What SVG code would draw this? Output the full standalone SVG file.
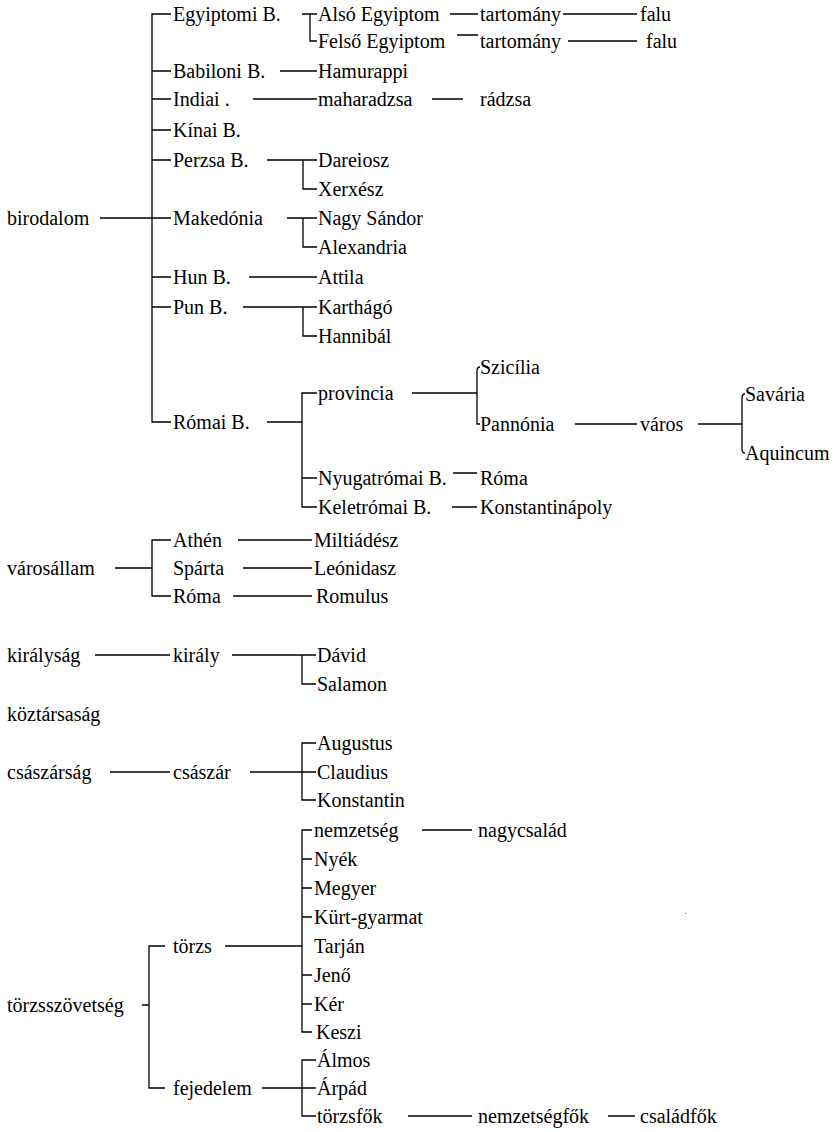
<svg xmlns="http://www.w3.org/2000/svg" width="838" height="1132" viewBox="0 0 838 1132">
<style>
text{font-family:"Liberation Serif","Times New Roman",serif;font-size:20px;fill:#000}
.c{stroke:#000;stroke-width:1.3;fill:none}
</style>
<rect width="838" height="1132" fill="#fff"/>
<g id="connectors" class="c">
<!-- birodalom trunk -->
<path d="M100,218H152M171,14H152V422H171M152,71H171M152,99H171M152,130H171M152,160H171M152,218H171M152,277H171M152,307H171"/>
<!-- Egyiptomi -->
<path d="M302,14H317M310,14V41H317"/>
<path d="M450,14H478M563,14H637M457,35H478M568,41H637"/>
<!-- Babiloni, Indiai -->
<path d="M280,71H317M253,99H317M432,99H463"/>
<!-- Perzsa -->
<path d="M267,160H317M303,160V189H317"/>
<!-- Makedonia -->
<path d="M287,218H317M303,218V247H317"/>
<!-- Hun, Pun -->
<path d="M249,277H317M243,307H317M303,307V336H317"/>
<!-- Romai -->
<path d="M267,422H302M317,393H302V507H317M302,478H317"/>
<path d="M412,393H477M480,367Q477,367 477,371V424H480M575,424H637M698,424H742M745,394Q742,394 742,398V449Q742,453 745,453"/>
<path d="M453,473H477M452,507H477"/>
<!-- varosallam -->
<path d="M115,568H152M171,540H152V596H171M238,540H312M243,568H312M233,596H312"/>
<!-- kiralysag -->
<path d="M95,655H170M232,655H316M302,655V684H316"/>
<!-- csaszarsag -->
<path d="M110,772H170M250,772H316M316,743H302V800H316"/>
<!-- torzsszovetseg -->
<path d="M142,1005H149M165,946H149V1088H165"/>
<path d="M225,946H302M312,830H302V1032H312M302,859H312M302,888H312M302,917H312M302,975H312M302,1004H312"/>
<path d="M422,830H472"/>
<path d="M262,1088H316M316,1060H302V1116H316"/>
<path d="M408,1116H472M608,1116H635"/>
</g>
<g id="n-birodalom"><text x="7" y="225">birodalom</text></g>
<g id="n-egyiptomi"><text x="173" y="21">Egyiptomi B.</text></g>
<g id="n-also"><text x="318" y="21">Alsó Egyiptom</text></g>
<g id="n-tart1"><text x="480" y="21">tartomány</text></g>
<g id="n-falu1"><text x="640" y="21">falu</text></g>
<g id="n-felso"><text x="318" y="48">Felső Egyiptom</text></g>
<g id="n-tart2"><text x="480" y="48">tartomány</text></g>
<g id="n-falu2"><text x="646" y="48">falu</text></g>
<g id="n-babiloni"><text x="173" y="78">Babiloni B.</text></g>
<g id="n-hamurappi"><text x="318" y="78">Hamurappi</text></g>
<g id="n-indiai"><text x="173" y="106">Indiai .</text></g>
<g id="n-maharadzsa"><text x="318" y="106">maharadzsa</text></g>
<g id="n-radzsa"><text x="480" y="106">rádzsa</text></g>
<g id="n-kinai"><text x="173" y="137">Kínai B.</text></g>
<g id="n-perzsa"><text x="173" y="167">Perzsa B.</text></g>
<g id="n-dareiosz"><text x="318" y="167">Dareiosz</text></g>
<g id="n-xerxesz"><text x="318" y="196">Xerxész</text></g>
<g id="n-makedonia"><text x="173" y="225">Makedónia</text></g>
<g id="n-nagysandor"><text x="318" y="225">Nagy Sándor</text></g>
<g id="n-alexandria"><text x="318" y="254">Alexandria</text></g>
<g id="n-hun"><text x="173" y="284">Hun B.</text></g>
<g id="n-attila"><text x="318" y="284">Attila</text></g>
<g id="n-pun"><text x="173" y="314">Pun B.</text></g>
<g id="n-karthago"><text x="318" y="314">Karthágó</text></g>
<g id="n-hannibal"><text x="318" y="343">Hannibál</text></g>
<g id="n-romai"><text x="173" y="429">Római B.</text></g>
<g id="n-provincia"><text x="318" y="400">provincia</text></g>
<g id="n-szicilia"><text x="480" y="374">Szicília</text></g>
<g id="n-pannonia"><text x="480" y="431">Pannónia</text></g>
<g id="n-varos"><text x="640" y="431">város</text></g>
<g id="n-savaria"><text x="745" y="401">Savária</text></g>
<g id="n-aquincum"><text x="745" y="460">Aquincum</text></g>
<g id="n-nyugatromai"><text x="318" y="485">Nyugatrómai B.</text></g>
<g id="n-roma1"><text x="480" y="485">Róma</text></g>
<g id="n-keletromai"><text x="318" y="514">Keletrómai B.</text></g>
<g id="n-konstantinapoly"><text x="480" y="514">Konstantinápoly</text></g>
<g id="n-varosallam"><text x="7" y="575">városállam</text></g>
<g id="n-athen"><text x="173" y="547">Athén</text></g>
<g id="n-sparta"><text x="173" y="575">Spárta</text></g>
<g id="n-roma2"><text x="173" y="603">Róma</text></g>
<g id="n-miltiadesz"><text x="314" y="547">Miltiádész</text></g>
<g id="n-leonidasz"><text x="314" y="575">Leónidasz</text></g>
<g id="n-romulus"><text x="316" y="603">Romulus</text></g>
<g id="n-kiralysag"><text x="7" y="662">királyság</text></g>
<g id="n-kiraly"><text x="173" y="662">király</text></g>
<g id="n-david"><text x="317" y="662">Dávid</text></g>
<g id="n-salamon"><text x="317" y="691">Salamon</text></g>
<g id="n-koztarsasag"><text x="7" y="721">köztársaság</text></g>
<g id="n-csaszarsag"><text x="7" y="779">császárság</text></g>
<g id="n-csaszar"><text x="173" y="779">császár</text></g>
<g id="n-augustus"><text x="317" y="750">Augustus</text></g>
<g id="n-claudius"><text x="317" y="779">Claudius</text></g>
<g id="n-konstantin"><text x="317" y="807">Konstantin</text></g>
<g id="n-torzsszovetseg"><text x="7" y="1012">törzsszövetség</text></g>
<g id="n-torzs"><text x="173" y="953">törzs</text></g>
<g id="n-nemzetseg"><text x="314" y="837">nemzetség</text></g>
<g id="n-nagycsalad"><text x="478" y="837">nagycsalád</text></g>
<g id="n-nyek"><text x="314" y="866">Nyék</text></g>
<g id="n-megyer"><text x="314" y="895">Megyer</text></g>
<g id="n-kurt"><text x="314" y="924">Kürt-gyarmat</text></g>
<g id="n-tarjan"><text x="314" y="953">Tarján</text></g>
<g id="n-jeno"><text x="314" y="982">Jenő</text></g>
<g id="n-ker"><text x="314" y="1011">Kér</text></g>
<g id="n-keszi"><text x="316" y="1039">Keszi</text></g>
<g id="n-fejedelem"><text x="173" y="1095">fejedelem</text></g>
<g id="n-almos"><text x="317" y="1067">Álmos</text></g>
<g id="n-arpad"><text x="317" y="1095">Árpád</text></g>
<g id="n-torzsfok"><text x="317" y="1123">törzsfők</text></g>
<g id="n-nemzetsegfok"><text x="478" y="1123">nemzetségfők</text></g>
<g id="n-csaladfok"><text x="640" y="1123">családfők</text></g>
<rect x="685" y="913" width="1" height="1" fill="#666"/>
</svg>
